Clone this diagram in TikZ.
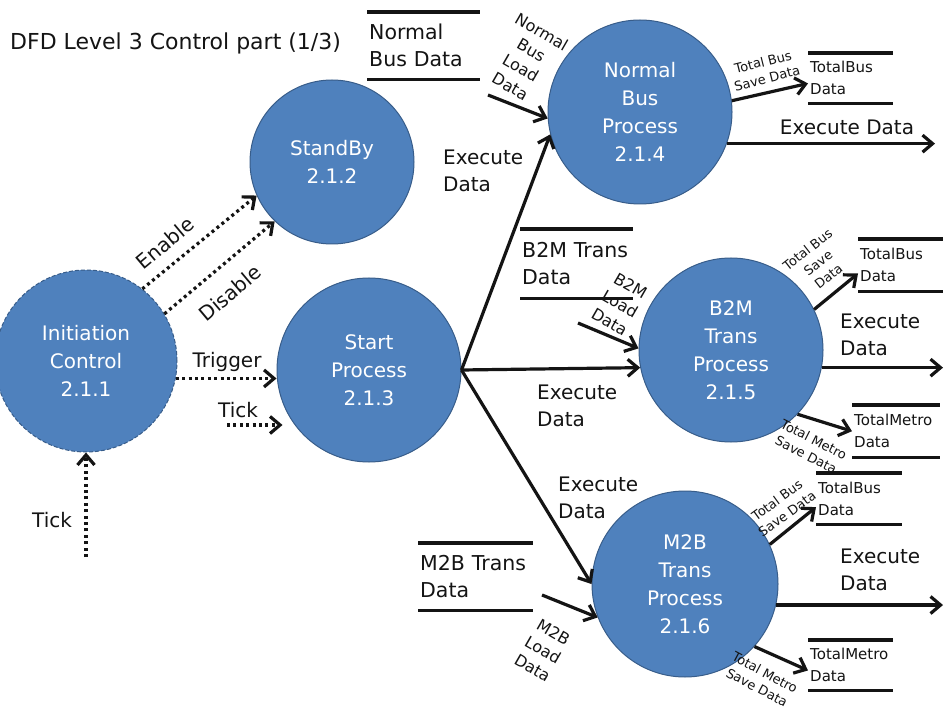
\documentclass[tikz,border=0pt]{standalone}
\usepackage{fontspec}
\setmainfont{DejaVu Sans}
\usetikzlibrary{arrows.meta}
\definecolor{procfill}{HTML}{4F81BD}
\definecolor{procline}{HTML}{385D8A}
\definecolor{ink}{HTML}{141414}
\begin{document}
\begin{tikzpicture}[x=1pt,y=-1pt,
  proc/.style={circle,fill=procfill,draw=procline,line width=1pt,inner sep=0pt,text=white,align=center,font=\fontsize{20}{28}\selectfont},
  flow/.style={draw=ink,line width=3.2pt,-{Straight Barb[length=10pt,width=17pt]}},
  ctrl/.style={flow,dash pattern=on 3pt off 3.4pt},
  store/.style={inner xsep=2pt,inner ysep=0pt,align=left,anchor=north west,text=ink},
  bigtext/.style={font=\fontsize{20.5}{27}\selectfont},
  smalltext/.style={font=\fontsize{15}{22}\selectfont},
  sline/.style={draw=ink,line width=3.5pt},
  lbl/.style={text=ink,font=\fontsize{20}{27}\selectfont,inner sep=0pt},
  savelbl/.style={text=ink,font=\fontsize{13}{17}\selectfont,inner sep=0pt,align=center},
  loadlbl/.style={text=ink,font=\fontsize{16}{21}\selectfont,inner sep=0pt,align=center},
]
\useasboundingbox[fill=white] (0,0) rectangle (948,711);

% title
\node[lbl,anchor=west,font=\fontsize{22}{27}\selectfont] (title) at (10,43) {DFD Level 3 Control part (1/3)};

% processes
\node[proc,minimum size=182pt,dash pattern=on 4pt off 2pt] (c1) at (86,361) {Initiation\\Control\\2.1.1};
\node[proc,minimum size=164pt] (c2) at (332,162) {StandBy\\2.1.2};
\node[proc,minimum size=184pt] (c3) at (369,370) {Start\\Process\\2.1.3};
\node[proc,minimum size=184pt] (c4) at (640,112) {Normal\\Bus\\Process\\2.1.4};
\node[proc,minimum size=184pt] (c5) at (731,350) {B2M\\Trans\\Process\\2.1.5};
\node[proc,minimum size=186pt] (c6) at (685,584) {M2B\\Trans\\Process\\2.1.6};

% data stores
\node[store,bigtext,minimum width=113pt,minimum height=67pt,text width=109pt] (s1) at (367,12) {Normal\\Bus Data};
\node[store,smalltext,minimum width=85pt,minimum height=50pt,text width=81pt] (s2) at (808,53) {TotalBus\\Data};
\node[store,bigtext,minimum width=113pt,minimum height=69pt,text width=109pt] (s3) at (520,229) {B2M Trans\\Data};
\node[store,smalltext,minimum width=85pt,minimum height=52pt,text width=81pt] (s4) at (858,239) {TotalBus\\Data};
\node[store,smalltext,minimum width=88pt,minimum height=52pt,text width=84pt] (s5) at (852,405) {TotalMetro\\Data};
\node[store,smalltext,minimum width=86pt,minimum height=51pt,text width=82pt] (s6) at (816,473) {TotalBus\\Data};
\node[store,bigtext,minimum width=115pt,minimum height=67pt,text width=111pt] (s7) at (418,543) {M2B Trans\\Data};
\node[store,smalltext,minimum width=85pt,minimum height=50pt,text width=81pt] (s8) at (808,640) {TotalMetro\\Data};
\foreach \s in {s1,s2,s3,s4,s5,s6,s7,s8}{
  \draw[sline] (\s.north west) -- (\s.north east);
  \draw[sline] (\s.south west) -- (\s.south east);
}

% control flows
\draw[ctrl] (c1.52) -- (c2.204);
\draw[ctrl] (c1.31) -- (c2.226);
\draw[ctrl] (c1.-11) -- (c1.-11 -| c3.west);
\coordinate (tk) at (227,425);
\draw[ctrl,shorten >=-6pt] (tk) -- (tk -| c3.west);
\coordinate (tk0) at (86,557);
\draw[ctrl] (tk0) -- (c1.south);

% data flows from start
\draw[flow] (c3.east) -- (c4.194);
\draw[flow] (c3.east) -- (c5.191);
\draw[flow] (c3.east) -- (c6.180);

% load flows
\coordinate (ld1) at (488,95);
\coordinate (ld2) at (578,323);
\coordinate (ld3) at (542,595);
\draw[flow] (ld1) -- (c4.184);
\draw[flow] (ld2) -- (c5.179);
\draw[flow] (ld3) -- (c6.201);

% outgoing flows
\coordinate (ex1) at (935,0);
\coordinate (ex2) at (943,0);
\draw[flow] (c4.7) -- (s2.187);
\draw[flow] (c4.-20) -- (c4.-20 -| ex1);
\draw[flow] (c5.26) -- (s4.191);
\draw[flow] (c5.-11) -- (c5.-11 -| ex2);
\draw[flow] (c5.-44) -- (s5.west);
\draw[flow] (c6.25) -- (s6.191);
\draw[flow] (c6.-13.5) -- (c6.-13.5 -| ex2);
\draw[flow] (c6.-42) -- (s8.187);

% labels
\node[lbl,rotate=40] (lEn) at (165,243) {Enable};
\node[lbl,rotate=40] (lDis) at (230,293) {Disable};
\node[lbl] (lTrig) at (227,362) {Trigger};
\node[lbl] (lTick) at (238,410) {Tick};
\node[lbl] (lTick2) at (52,520) {Tick};
\node[lbl,align=left,anchor=west] (lx1) at (443,171) {Execute\\Data};
\node[lbl,align=left,anchor=west] (lx2) at (537,406) {Execute\\Data};
\node[lbl,align=left,anchor=west] (lx3) at (558,498) {Execute\\Data};
\node[lbl] (lx4) at (847,127) {Execute Data};
\node[lbl,align=left,anchor=west] (lx5) at (840,335) {Execute\\Data};
\node[lbl,align=left,anchor=west] (lx6) at (840,570) {Execute\\Data};

\node[savelbl,rotate=14] (sv1) at (765,70) {Total Bus\\Save Data};
\node[savelbl,rotate=38] (sv2) at (818,263) {Total Bus\\Save\\Data};
\node[savelbl,rotate=-27] (sv3) at (810,447) {Total Metro\\Save Data};
\node[savelbl,rotate=36] (sv4) at (782,507) {Total Bus\\Save Data};
\node[savelbl,rotate=-28] (sv5) at (761,680) {Total Metro\\Save Data};

\node[loadlbl,rotate=-30] (lo1) at (526,59) {Normal\\Bus\\Load\\Data};
\node[loadlbl,rotate=-30] (lo2) at (620,304) {B2M\\Load\\Data};
\node[loadlbl,rotate=-30] (lo3) at (543,650) {M2B\\Load\\Data};
\end{tikzpicture}
\end{document}
